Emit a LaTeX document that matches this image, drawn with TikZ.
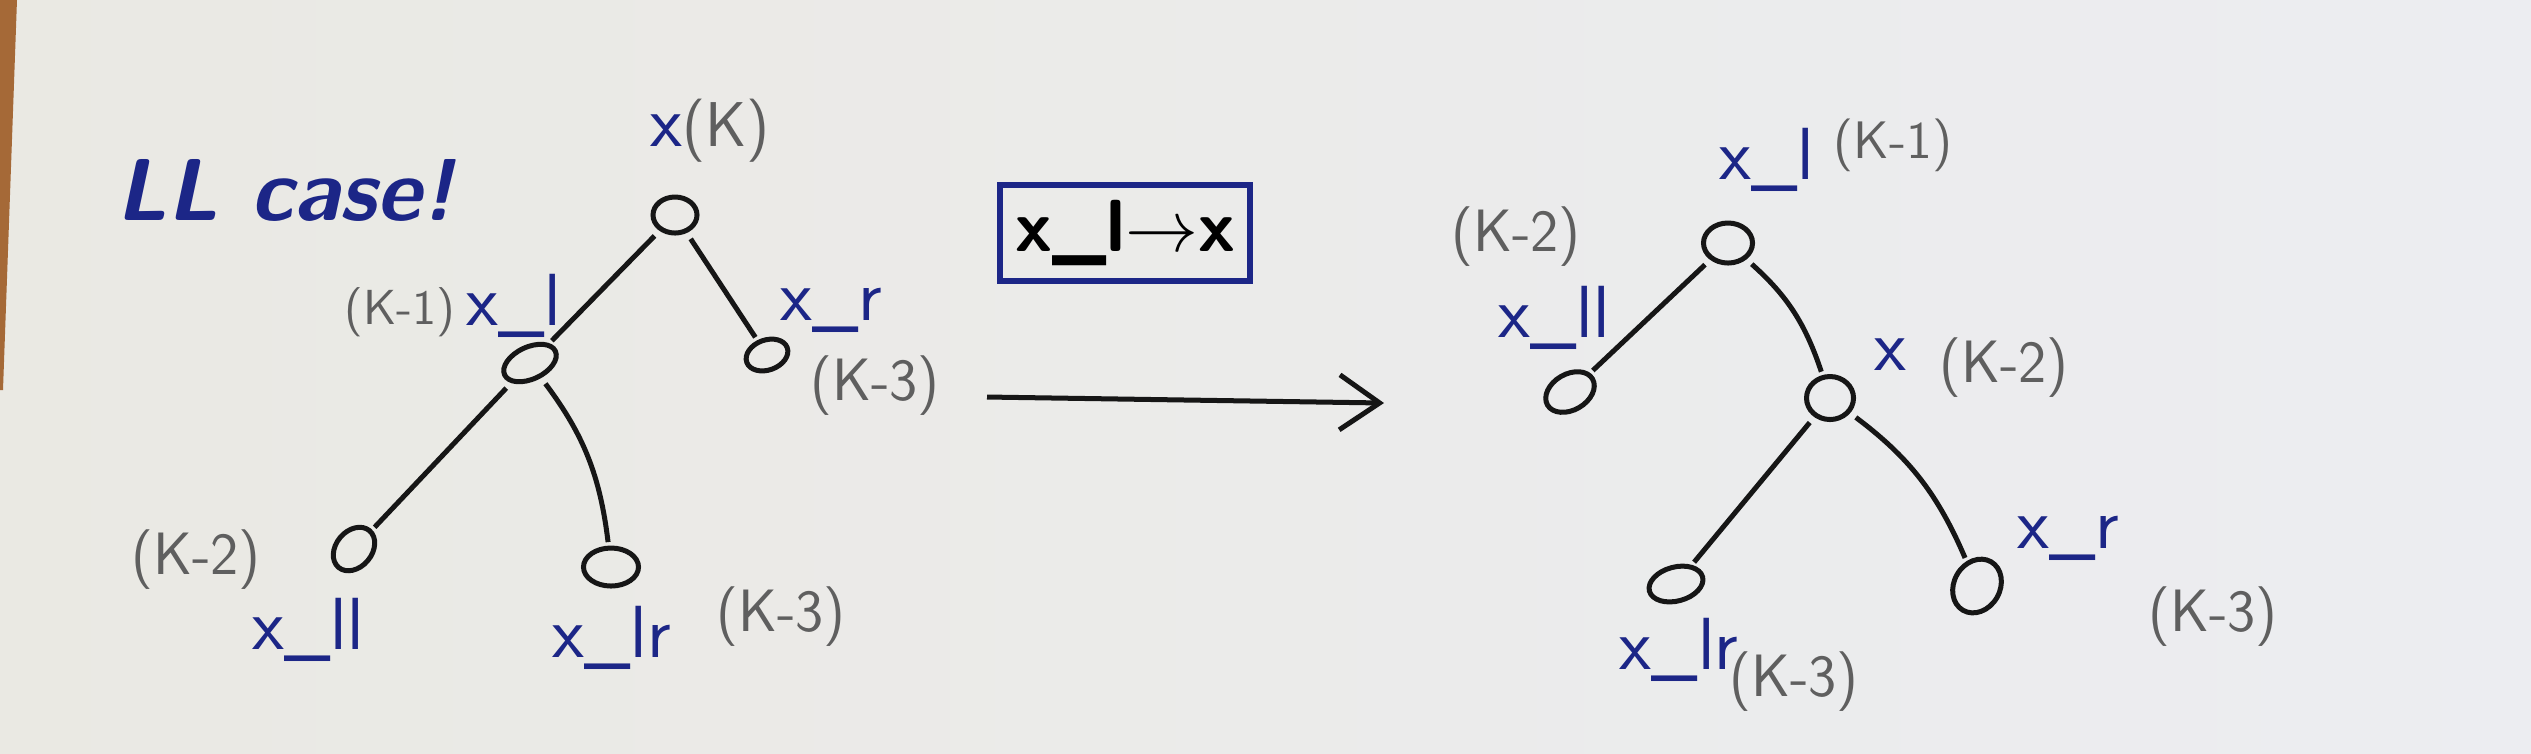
\documentclass[tikz,border=0pt]{standalone}
\usepackage{tikz}
\usetikzlibrary{arrows, arrows.meta, shapes.geometric}

\definecolor{paperwarm}{RGB}{234,233,227}
\definecolor{papercool}{RGB}{236,237,241}
\definecolor{desk}{RGB}{165,105,55}
\definecolor{ink}{RGB}{28,38,135}
\definecolor{pencil}{RGB}{95,95,95}
\definecolor{pen}{RGB}{22,22,22}

\begin{document}
\begin{tikzpicture}[x=0.01cm, y=-0.01cm,
	vtx/.style = {ellipse, draw=pen, line width = 0.5mm, minimum width = 0.44cm, minimum height = 0.36cm, inner sep = 0pt},
	branch/.style = {draw=pen, line width = 0.5mm, shorten <= 2pt, shorten >= 1pt},
	bluetag/.style = {text=ink, font=\sffamily\fontsize{21}{24}\selectfont, inner sep = 0pt},
	greytag/.style = {text=pencil, font=\sffamily\fontsize{17}{20}\selectfont, inner sep = 0pt}]

	\shade[left color=paperwarm, right color=papercool] (0,0) rectangle (2531,753);
	\useasboundingbox (0,0) rectangle (2531,753);
	\fill[desk] (0,0) -- (17,0) -- (3,390) -- (0,390) -- cycle;

	\node[bluetag, font=\sffamily\itshape\bfseries\fontsize{25}{28}\selectfont] (title) at (285,190) {LL case!};

	%%%%%%%%%%%%%%%%%%%%%%%%%%%%%%%%%%%%%%%%%%%%%%%%%%%%%%%%%%%%%%%%%%%%%

	\node[vtx] (k) at (675,215) {};
	\node[vtx, minimum width = 0.56cm, minimum height = 0.32cm, rotate = 25] (kl) at (530,363) {};
	\node[vtx, minimum width = 0.43cm, minimum height = 0.30cm, rotate = 20] (kr) at (767,355) {};
	\node[vtx, minimum width = 0.48cm, minimum height = 0.36cm, rotate = 50] (kll) at (354,549) {};
	\node[vtx, minimum width = 0.55cm, minimum height = 0.38cm] (klr) at (611,567) {};

	\node[bluetag] (tk) at (710,131) {x{\color{pencil}\fontsize{18}{20}\selectfont(K)}};
	\node[greytag, font=\sffamily\fontsize{14}{17}\selectfont] (vkl) at (400,312) {(K-1)};
	\node[bluetag] (tkl) at (514,306) {x\_l};
	\node[bluetag] (tkr) at (831,310) {x\_r};
	\node[greytag] (vkr) at (875,386) {(K-3)};
	\node[greytag] (vkll) at (196,560) {(K-2)};
	\node[bluetag] (tkll) at (308,630) {x\_ll};
	\node[bluetag] (tklr) at (612,638) {x\_lr};
	\node[greytag] (vklr) at (781,617) {(K-3)};

	\draw[branch] (k) -- (kl);
	\draw[branch] (k) -- (kr);
	\draw[branch] (kl) -- (kll);
	\draw[branch] (kl) to[bend left=15] (klr);

	%%%%%%%%%%%%%%%%%%%%%%%%%%%%%%%%%%%%%%%%%%%%%%%%%%%%%%%%%%%%%%%%%%%%%

	\node[draw=ink, line width = 0.6mm, minimum width = 2.49cm, minimum height = 0.95cm, font=\sffamily\bfseries\fontsize{21}{24}\selectfont] (swap) at (1125,233) {x\_l$\rightarrow$x};

	\coordinate (from) at (987,397);
	\coordinate (to) at (1384,403);
	\draw[-{Straight Barb[length=4mm, width=5.5mm]}, line width = 0.5mm, draw=pen] (from) -- (to);

	%%%%%%%%%%%%%%%%%%%%%%%%%%%%%%%%%%%%%%%%%%%%%%%%%%%%%%%%%%%%%%%%%%%%%

	\node[vtx, minimum width = 0.49cm, minimum height = 0.40cm] (m) at (1728,243) {};
	\node[vtx, minimum width = 0.52cm, minimum height = 0.36cm, rotate = 30] (mll) at (1570,392) {};
	\node[vtx, minimum width = 0.47cm, minimum height = 0.43cm] (mx) at (1830,398) {};
	\node[vtx, minimum width = 0.55cm, minimum height = 0.34cm, rotate = 15] (mlr) at (1676,584) {};
	\node[vtx, minimum width = 0.56cm, minimum height = 0.46cm, rotate = 60] (mr) at (1977,586) {};

	\node[bluetag] (tm) at (1767,160) {x\_l};
	\node[greytag, font=\sffamily\fontsize{15}{18}\selectfont] (vm) at (1893,145) {(K-1)};
	\node[greytag] (vmll) at (1516,237) {(K-2)};
	\node[bluetag] (tmll) at (1554,318) {x\_ll};
	\node[bluetag] (tmx) at (1890,355) {x};
	\node[greytag] (vmx) at (2004,368) {(K-2)};
	\node[bluetag] (tmr) at (2068,538) {x\_r};
	\node[greytag] (vmr) at (2213,617) {(K-3)};
	\node[bluetag] (tmlr) at (1679,650) {x\_lr};
	\node[greytag] (vmlr) at (1794,682) {(K-3)};

	\draw[branch] (m) -- (mll);
	\draw[branch] (m) to[bend left=15] (mx);
	\draw[branch] (mx) -- (mlr);
	\draw[branch] (mx) to[bend left=15] (mr);

\end{tikzpicture}
\end{document}
